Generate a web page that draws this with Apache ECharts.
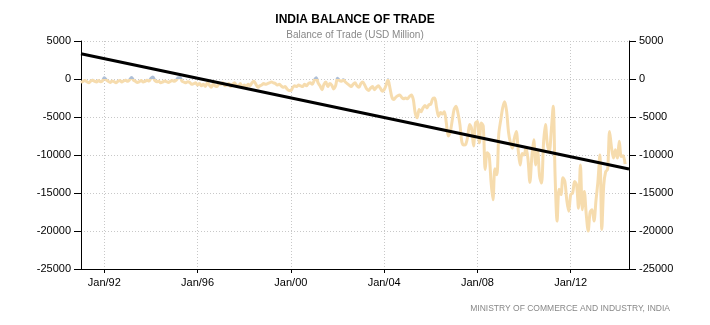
<!DOCTYPE html>
<html>
<head>
<meta charset="utf-8">
<script src="https://cdn.jsdelivr.net/npm/echarts@6/dist/echarts.min.js"></script>
<style>
  html, body { margin: 0; padding: 0; background: #fff; }
  #chart { width: 710px; height: 325px; }
</style>
</head>
<body>
<div id="chart"></div>
<script>
// Monthly balance of trade, USD million, Jan 1991 .. May 2014
const balance = [
  // 1991
  -450, -300, -200, -350, -500, -250, -150, -300, -400, -200, -350, -250,
  // 1992
  150, -100, -300, -450, -250, -350, -500, -300, -200, -400, -250, -150,
  // 1993
  -300, -100, 200, -150, -300, -450, -350, -200, -400, -300, -150, -250,
  // 1994
  100, 250, -200, -350, -300, -500, -400, -250, -350, -450, -300, -200,
  // 1995
  -300, -150, 150, 200, -300, -400, -500, -350, -450, -700, -600, -500,
  // 1996
  -800, -600, -900, -700, -1000, -500, -800, -1100, -700, -900, -1000, -600,
  // 1997
  -700, -500, -900, -800, -600, -1000, -700, -500, -800, -900, -600, -1100,
  // 1998
  -800, -1000, -700, -900, -500, -300, -700, -1100, -900, -800, -600, -700,
  // 1999
  -600, -500, -400, -500, -600, -800, -700, -900, -1100, -1000, -1300, -1500,
  // 2000
  -1500, -1100, -900, -1000, -800, -900, -1000, -700, -900, -600, -500, -700,
  // 2001
  -200, 150, -500, -900, -1400, -700, -400, -1000, -600, -800, -1300, -900,
  // 2002
  100, -200, -300, -100, -400, -600, -800, -1000, -700, -500, -900, -1100,
  // 2003
  -600, -400, -800, -1300, -1500, -1200, -1000, -1400, -1100, -900, -1200, -1600,
  // 2004
  -1400, -800, -100, -1200, -2400, -2700, -2400, -2200, -2100, -2400, -2600, -2500,
  // 2005
  -2600, -2300, -2100, -2700, -4500, -5100, -4000, -4300, -3800, -3500, -3800, -3400,
  // 2006
  -3300, -2600, -2500, -3800, -4900, -4400, -4600, -4300, -5800, -7500, -7000, -5500,
  // 2007
  -4000, -3600, -4500, -6000, -8300, -8700, -8600, -7600, -6000, -6500, -8800, -5800,
  // 2008
  -5600, -8400, -5800, -6200, -11900, -9700, -10000, -13500, -15900, -11800, -12600, -7200,
  // 2009
  -5400, -3800, -3000, -4200, -7000, -8400, -9100, -7800, -6900, -9400, -11300, -9800,
  // 2010
  -10000, -9000, -10500, -13600, -10200, -8000, -11300, -9500, -12800, -13700, -8500, -6000,
  // 2011
  -8600, -9500, -6800, -3600, -13000, -18700, -14500, -15200, -13000, -13500, -16000, -17400,
  // 2012
  -15200, -15000, -13500, -13900, -17000, -11300, -17200, -14800, -17800, -20000, -17500, -17200,
  // 2013
  -18700, -16000, -13500, -10000, -19800, -14000, -12200, -11900, -6900, -9000, -10400, -9300,
  // 2014
  -10400, -8200, -10200, -10100, -11200
];

// Linear trend end points (first and last month on the axis)
const trendStart = 3330;
const trendEnd = -11850;

// Month labels, Jan 1991 .. Jul 2014
const monthNames = ['Jan','Feb','Mar','Apr','May','Jun','Jul','Aug','Sep','Oct','Nov','Dec'];
const months = [];
for (let y = 1991; y <= 2014; y++) {
  for (let m = 0; m < 12; m++) {
    if (y === 2014 && m > 6) break;
    months.push(monthNames[m] + '/' + String(y).slice(2));
  }
}

// Tick labels shown on the time axis
const tickLabels = ['Jan/92', 'Jan/96', 'Jan/00', 'Jan/04', 'Jan/08', 'Jan/12'];
const showTick = (idx) => tickLabels.indexOf(months[idx]) !== -1;

const yTicks = { min: -25000, max: 5000, interval: 5000 };

const gridBox = { left: 81, right: 81, top: 41, bottom: 56 };
const chartHeight = 325;

const axisFont = { fontFamily: 'Liberation Sans', fontSize: 11, color: '#000' };

const yAxisBase = {
  type: 'value',
  min: yTicks.min,
  max: yTicks.max,
  interval: yTicks.interval,
  axisLine: { show: true, onZero: false, lineStyle: { color: '#000', width: 1 } },
  axisTick: { show: true, length: 7, lineStyle: { color: '#000' } },
  axisLabel: Object.assign({ margin: 10, formatter: (v) => String(v) }, axisFont),
  splitLine: { show: false }
};

// Line colour switches at zero: blue-grey above, wheat below
const plotTop = gridBox.top;
const plotBottom = chartHeight - gridBox.bottom;
const zeroFrac = yTicks.max / (yTicks.max - yTicks.min);
const balanceColor = new echarts.graphic.LinearGradient(0, plotTop, 0, plotBottom, [
  { offset: 0, color: '#aebfd6' },
  { offset: zeroFrac, color: '#aebfd6' },
  { offset: zeroFrac, color: '#f6dcae' },
  { offset: 1, color: '#f6dcae' }
], true);

const chart = echarts.init(document.getElementById('chart'), null, { renderer: 'canvas' });

chart.setOption({
  animation: false,
  backgroundColor: '#fff',
  title: [
    {
      text: 'INDIA BALANCE OF TRADE',
      left: 'center',
      top: 9,
      textStyle: { fontFamily: 'Liberation Sans', fontSize: 12, fontWeight: 'bold', color: '#000' },
      subtext: 'Balance of Trade (USD Million)',
      subtextStyle: { fontFamily: 'Liberation Sans', fontSize: 10, color: '#888' },
      itemGap: 4
    },
    {
      text: 'MINISTRY OF COMMERCE AND INDUSTRY, INDIA',
      right: 35,
      top: 299,
      textStyle: { fontFamily: 'Liberation Sans', fontSize: 8.5, fontWeight: 'normal', color: '#888' }
    }
  ],
  grid: Object.assign({ containLabel: false }, gridBox),
  xAxis: {
    type: 'category',
    data: months,
    boundaryGap: false,
    axisLine: { show: true, onZero: false, lineStyle: { color: '#000', width: 1 } },
    axisTick: { show: true, interval: showTick, length: 4, lineStyle: { color: '#000' } },
    axisLabel: Object.assign({ interval: showTick, margin: 8 }, axisFont),
    splitLine: { show: true, interval: showTick, lineStyle: { color: '#c8c8c8', type: [1, 2], width: 1 } }
  },
  yAxis: [
    Object.assign({}, yAxisBase, {
      position: 'left',
      splitLine: { show: true, lineStyle: { color: '#c8c8c8', type: [1, 2], width: 1 } }
    }),
    Object.assign({}, yAxisBase, { position: 'right' })
  ],
  series: [
    {
      name: 'Balance of Trade',
      type: 'line',
      data: balance,
      smooth: 0.3,
      symbol: 'none',
      lineStyle: { width: 3, color: balanceColor },
      z: 2
    },
    {
      name: 'Trend',
      type: 'line',
      data: [[0, trendStart], [months.length - 1, trendEnd]],
      symbol: 'none',
      lineStyle: { color: '#000', width: 3 },
      z: 3
    }
  ]
});
</script>
</body>
</html>
